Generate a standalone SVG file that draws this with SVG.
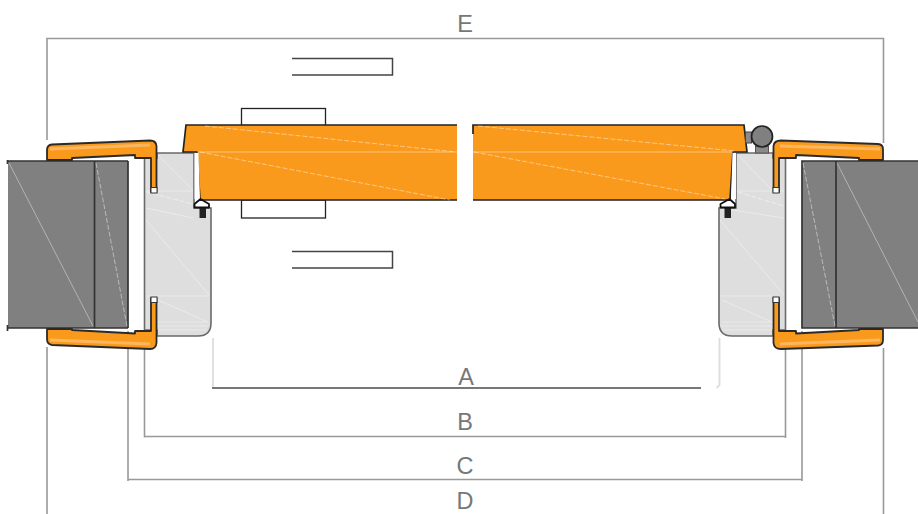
<svg xmlns="http://www.w3.org/2000/svg" width="918" height="514" viewBox="0 0 918 514">
<style>
.dim{fill:none;stroke:#999;stroke-width:1.6}
.dimd{fill:none;stroke:#777;stroke-width:2}
.ext{fill:none;stroke:#ddd;stroke-width:1.8}
.lbl{font-family:"Liberation Sans",Arial,sans-serif;font-size:23.5px;fill:#777;text-anchor:middle}
.box{fill:#fff;stroke:#222;stroke-width:1.3}
.open{fill:none;stroke:#444;stroke-width:1.5}
.door{fill:#fa9a1c;stroke:none}
.edge{fill:none;stroke:#222;stroke-width:1.7}
.case{fill:#fa9a1c;stroke:#2a2a2a;stroke-width:1.8;stroke-linejoin:round}
.hl{fill:none;stroke:#fdbb68;stroke-width:3;opacity:.85}
.fr{fill:#dedede;stroke:#6a6a6a;stroke-width:1.6}
.wl{fill:#808080;stroke:none}
.wle{fill:none;stroke:#333;stroke-width:1.7}
.wh{fill:none;stroke:#fff;stroke-width:1;opacity:.4}
.whd{fill:none;stroke:#fff;stroke-width:1;opacity:.45;stroke-dasharray:5 2}
.blk{fill:#222}
.seal{fill:#fff;stroke:#111;stroke-width:1.8;stroke-linejoin:round}
.sq{fill:#fff;stroke:#333;stroke-width:1}
</style>

<g id="connectors">
<path class="dim" d="M47,140V38.500H883.500V143"/>
<path class="dim" d="M47,347V514M883.500,348V514"/>
<path class="dimd" d="M212,388H701"/>
<path class="ext" d="M213,338V387M719.500,338V385l-3,3"/>
<path class="dim" d="M144.500,335V437.500M144.500,436.500H785.500V438M785.500,335V437"/>
<path class="dim" d="M128,331V481M128,479.500H802V481M802,331V480"/>
</g>

<g id="dimension-labels">
<text class="lbl" x="465" y="32">E</text>
<text class="lbl" x="466" y="385">A</text>
<text class="lbl" x="465" y="430">B</text>
<text class="lbl" x="465" y="473.500">C</text>
<text class="lbl" x="465" y="509">D</text>
</g>

<g id="handle-plates">
<path class="open" d="M292,58.500H392.500V75H292"/>
<path class="open" d="M292,251.500H392.500V268H292"/>
<rect class="box" x="241.500" y="108.500" width="84" height="17"/>
<rect class="box" x="241.500" y="200" width="84" height="18"/>
</g>

<g id="left-wall">
<rect class="wl" x="8" y="161" width="120" height="167"/>
<path class="wle" d="M7,161H128M128,161V328M7,328H128M94.500,161V328"/>
<path class="wle" d="M7.500,160V164M7.500,325V331"/>
<path class="wh" d="M9,163L93,326"/>
<path class="whd" d="M96,163L127,326"/>
</g>

<g id="right-wall">
<rect class="wl" x="802" y="161" width="116" height="167"/>
<path class="wle" d="M918,161H802V328H918M836,161V328"/>
<path class="wh" d="M837,163L918,322"/>
<path class="whd" d="M803,163L835,326"/>
</g>

<g id="left-frame">
<path class="fr" d="M144.500,158V330H157V336H198Q211,336 211,323V208H194V153H157V158Z"/>
<path class="wh" d="M158,155L193,190M146,191H193M146,208L193,218M146,220L209,295M146,296H209M158,300L208,322M158,322H205M158,326H207M158,330H206"/>
<path class="whd" d="M146,192L193,204"/>
</g>

<g id="right-frame">
<path class="fr" d="M785.500,158V330H773V336H732Q719,336 719,323V208H736V153H773V158Z"/>
<path class="wh" d="M738,155L772,190M737,191H784M720,208L784,218M720,220L784,295M720,296H772M722,300L772,322M722,322H772M721,326H772M723,330H772"/>
<path class="whd" d="M738,192L784,206"/>
</g>

<g id="left-casing">
<path class="case" d="M47,160V150Q47,145 52,144.500L150,140.500Q156,140.500 156.500,146V192H151V158H135V155L72,158V160Z"/>
<path class="case" d="M47,329V339Q47,344 52,345L150,349Q156,349 156.500,343V298H151V331H135V333.500L72,330V329Z"/>
<rect class="sq" x="151" y="187.500" width="6" height="5.500"/>
<rect class="sq" x="151" y="297" width="6" height="5.500"/>
<path class="hl" d="M50,149L150,145M50,340L150,344"/>
</g>

<g id="right-casing">
<path class="case" d="M883,160V149Q883,144.500 878,144L781,140.500Q774,140.500 773.500,146V192H779V158H796V155L859,158V160Z"/>
<path class="case" d="M883,329V340Q883,345 878,345.500L781,349Q774,349 773.500,343V298H779V331H796V333.500L859,330V329Z"/>
<rect class="sq" x="773" y="187.500" width="6" height="5.500"/>
<rect class="sq" x="773" y="297" width="6" height="5.500"/>
<path class="hl" d="M780,146L880,149M780,344L880,340"/>
</g>

<g id="left-door-leaf">
<path class="door" d="M186,125H457V200H200L197,152H183Z"/>
<path class="edge" d="M457,125H186L183,152H197L200,200H457"/>
<path class="wh" d="M197,152H457"/>
<path class="whd" d="M205,126L456,152M200,152L450,200"/>
</g>

<g id="right-door-leaf">
<path class="door" d="M473,125H744L747,152H733L730,200H473Z"/>
<path class="edge" d="M473,134V125H744L747,152H733L730,200H473"/>
<path class="wh" d="M473,152H733"/>
<path class="whd" d="M478,126L735,151M474,152L725,199"/>
</g>

<g id="left-seal">
<path d="M194.500,153H198.500L200,199H194.500Z" fill="#fff"/>
<rect class="blk" x="199.500" y="208" width="6.500" height="10"/>
<path class="seal" d="M200.500,199L194.500,204V207.500H209V204Z"/>
</g>

<g id="right-seal">
<path d="M736,153H732.500L731,199H736Z" fill="#fff"/>
<rect class="blk" x="724.500" y="208" width="6.500" height="10"/>
<path class="seal" d="M729.500,199L735,204V207.500H720.500V204Z"/>
</g>

<g id="hinge">
<rect x="745.500" y="132" width="6" height="11" fill="#8a8a8a" stroke="#444"/>
<rect x="755.500" y="146" width="13" height="7" fill="#8a8a8a" stroke="#555"/>
<circle cx="762" cy="136.500" r="10.500" fill="#808080" stroke="#222" stroke-width="1.7"/>
</g>
</svg>
